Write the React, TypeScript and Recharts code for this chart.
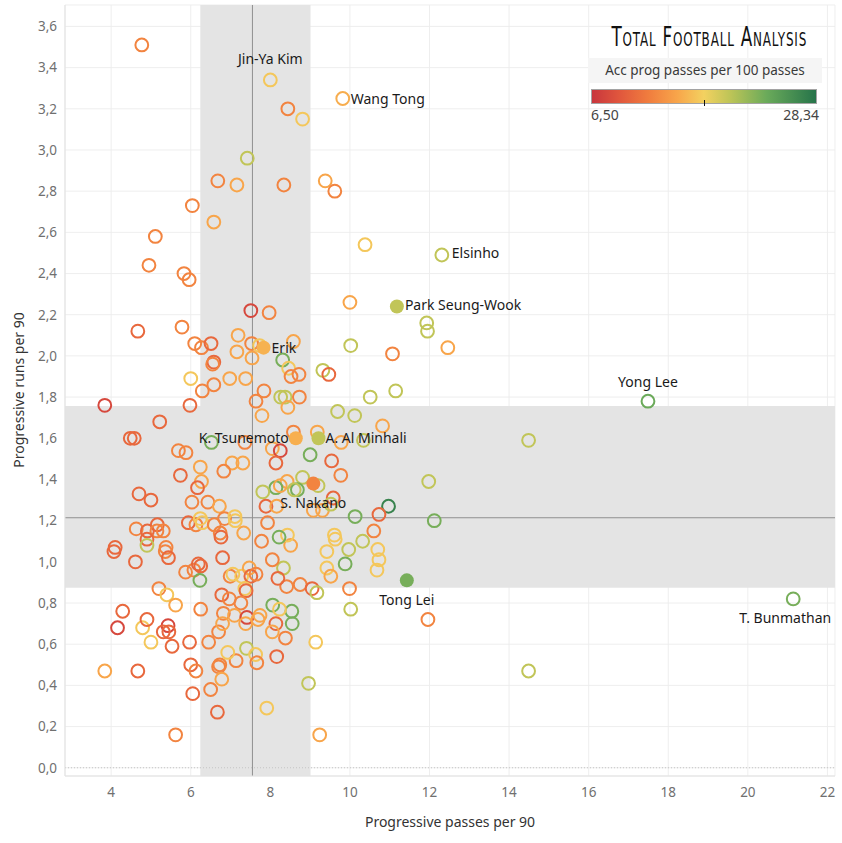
import { ScatterChart, Scatter, XAxis, YAxis, CartesianGrid, ReferenceArea, ReferenceLine } from 'recharts';

// progressive passes per 90 (x), progressive runs per 90 (y), accurate prog passes per 100 passes (colour)
const passes = [
  4.77, 8.44, 8.81, 7.42, 6.68, 7.16, 8.34, 9.38, 9.62, 6.04,
  6.58, 5.11, 4.95, 5.83, 5.96, 10.38, 10.0, 11.93, 11.95, 12.46,
  10.02, 11.07, 10.51, 11.15, 9.69, 10.12, 7.51, 7.97, 4.67, 5.78,
  7.19, 6.1, 6.27, 6.51, 7.53, 7.73, 8.58, 7.16, 7.54, 8.31,
  6.58, 6.55, 8.46, 8.52, 8.72, 9.32, 9.47, 6.0, 6.98, 7.38,
  6.29, 6.58, 7.84, 8.26, 8.37, 8.73, 7.64, 8.44, 3.84, 5.98,
  7.79, 5.22, 4.48, 4.58, 6.52, 7.36, 8.58, 9.18, 9.78, 8.05,
  8.25, 5.69, 5.88, 8.14, 9.0, 9.54, 9.77, 6.24, 7.04, 7.31,
  6.83, 5.74, 8.81, 8.42, 6.27, 6.17, 8.14, 8.25, 8.68, 8.6,
  7.81, 9.2, 4.7, 5.0, 6.03, 6.43, 6.72, 7.89, 8.16, 9.58,
  10.13, 10.82, 10.34, 14.49, 11.98, 10.97, 10.73, 12.12, 9.08, 9.31,
  9.52, 10.6, 9.61, 9.63, 8.51, 8.43, 10.32, 9.97, 9.42, 10.7,
  10.73, 9.88, 9.42, 8.33, 9.52, 10.68, 8.75, 8.41, 9.05, 9.17,
  9.99, 10.02, 8.54, 11.96, 8.55, 8.96, 9.14, 9.24, 14.49, 4.63,
  4.91, 5.16, 5.15, 5.31, 4.9, 4.9, 4.1, 4.07, 5.38, 5.36,
  5.44, 4.61, 5.94, 6.13, 6.24, 6.29, 6.59, 6.85, 7.11, 7.12,
  6.74, 6.76, 7.33, 7.93, 7.78, 8.22, 6.8, 8.05, 5.87, 6.08,
  6.19, 6.25, 6.23, 6.99, 7.06, 7.28, 7.47, 7.51, 7.64, 7.36,
  7.39, 8.19, 5.2, 5.4, 5.62, 6.25, 6.78, 6.97, 7.26, 6.82,
  7.1, 7.41, 7.38, 7.69, 7.74, 8.06, 8.23, 8.14, 8.38, 8.05,
  6.7, 6.45, 5.97, 5.53, 5.43, 5.45, 5.31, 5.0, 4.79, 4.9,
  4.29, 4.16, 3.84, 4.67, 5.62, 6.0, 6.13, 6.05, 6.5, 6.67,
  6.7, 6.73, 6.78, 7.14, 6.93, 7.4, 7.63, 7.66, 8.16, 7.91,
  6.8,
];

const runs = [
  3.51, 3.2, 3.15, 2.96, 2.85, 2.83, 2.83, 2.85, 2.8, 2.73,
  2.65, 2.58, 2.44, 2.4, 2.37, 2.54, 2.26, 2.16, 2.12, 2.04,
  2.05, 2.01, 1.8, 1.83, 1.73, 1.71, 2.22, 2.21, 2.12, 2.14,
  2.1, 2.06, 2.04, 2.06, 2.06, 2.05, 2.07, 2.02, 1.99, 1.98,
  1.97, 1.96, 1.94, 1.9, 1.91, 1.93, 1.91, 1.89, 1.89, 1.89,
  1.83, 1.86, 1.83, 1.8, 1.8, 1.8, 1.78, 1.75, 1.76, 1.76,
  1.71, 1.68, 1.6, 1.6, 1.58, 1.58, 1.63, 1.63, 1.58, 1.55,
  1.54, 1.54, 1.53, 1.48, 1.52, 1.49, 1.42, 1.46, 1.48, 1.48,
  1.44, 1.42, 1.41, 1.39, 1.39, 1.36, 1.36, 1.37, 1.35, 1.35,
  1.34, 1.37, 1.33, 1.3, 1.29, 1.29, 1.27, 1.27, 1.27, 1.31,
  1.22, 1.66, 1.59, 1.59, 1.39, 1.27, 1.23, 1.2, 1.25, 1.25,
  1.28, 1.15, 1.13, 1.11, 1.08, 1.13, 1.1, 1.06, 1.05, 1.06,
  1.01, 0.99, 0.97, 0.97, 0.93, 0.96, 0.89, 0.88, 0.87, 0.85,
  0.87, 0.77, 0.76, 0.72, 0.7, 0.41, 0.61, 0.16, 0.47, 1.16,
  1.15, 1.18, 1.15, 1.15, 1.11, 1.08, 1.07, 1.05, 1.07, 1.05,
  1.02, 1.0, 1.19, 1.18, 1.21, 1.19, 1.18, 1.21, 1.22, 1.2,
  1.14, 1.12, 1.14, 1.19, 1.1, 1.12, 1.02, 1.01, 0.95, 0.96,
  0.99, 0.98, 0.91, 0.93, 0.94, 0.93, 0.97, 0.93, 0.94, 0.87,
  0.86, 0.92, 0.87, 0.84, 0.79, 0.77, 0.84, 0.82, 0.8, 0.75,
  0.74, 0.73, 0.7, 0.72, 0.74, 0.79, 0.77, 0.7, 0.63, 0.66,
  0.66, 0.61, 0.61, 0.59, 0.69, 0.66, 0.66, 0.61, 0.68, 0.72,
  0.76, 0.68, 0.47, 0.47, 0.16, 0.5, 0.47, 0.36, 0.38, 0.27,
  0.49, 0.5, 0.43, 0.52, 0.56, 0.58, 0.55, 0.51, 0.54, 0.29,
  0.7,
];

const accuracy = [
  12.5, 12.5, 16.8, 19.8, 12.5, 14.8, 12.5, 14.8, 12.5, 12.5,
  14.8, 12.5, 12.5, 12.5, 12.5, 16.8, 14.8, 19.8, 19.8, 14.8,
  19.8, 12.5, 19.8, 19.8, 19.8, 19.8, 8, 12.5, 10.5, 12.5,
  14.8, 12.5, 12.5, 10.5, 12.5, 16.8, 14.8, 14.8, 14.8, 23,
  10.5, 12.5, 16.8, 12.5, 12.5, 19.8, 10.5, 16.8, 14.8, 14.8,
  12.5, 12.5, 12.5, 19.8, 19.8, 12.5, 12.5, 14.8, 8, 10.5,
  14.8, 10.5, 10.5, 10.5, 23, 12.5, 12.5, 14.8, 14.8, 14.8,
  8, 12.5, 12.5, 10.5, 23, 10.5, 12.5, 14.8, 14.8, 14.8,
  12.5, 10.5, 19.8, 14.8, 14.8, 10.5, 23, 14.8, 23, 19.8,
  19.8, 19.8, 10.5, 10.5, 12.5, 12.5, 14.8, 10.5, 14.8, 10.5,
  23, 14.8, 19.8, 19.8, 19.8, 27, 10.5, 23, 14.8, 14.8,
  19.8, 12.5, 16.8, 16.8, 14.8, 16.8, 19.8, 19.8, 16.8, 16.8,
  16.8, 23, 16.8, 19.8, 14.8, 16.8, 12.5, 12.5, 10.5, 19.8,
  12.5, 19.8, 23, 12.5, 23, 19.8, 16.8, 14.8, 19.8, 12.5,
  10.5, 10.5, 12.5, 12.5, 10.5, 19.8, 10.5, 10.5, 12.5, 12.5,
  10.5, 10.5, 10.5, 12.5, 16.8, 16.8, 12.5, 12.5, 16.8, 16.8,
  12.5, 10.5, 14.8, 12.5, 12.5, 23, 10.5, 12.5, 12.5, 12.5,
  10.5, 10.5, 23, 12.5, 16.8, 16.8, 14.8, 10.5, 12.5, 16.8,
  10.5, 10.5, 12.5, 16.8, 14.8, 12.5, 10.5, 12.5, 12.5, 12.5,
  14.8, 8, 14.8, 14.8, 14.8, 23, 16.8, 10.5, 12.5, 14.8,
  12.5, 12.5, 10.5, 10.5, 8, 10.5, 10.5, 16.8, 16.8, 10.5,
  10.5, 8, 14.8, 10.5, 12.5, 10.5, 12.5, 10.5, 12.5, 10.5,
  12.5, 12.5, 14.8, 12.5, 16.8, 19.8, 16.8, 12.5, 10.5, 16.8,
  14.8,
];

// labelled players
const namedPlayers = ['Jin-Ya Kim', 'Wang Tong', 'Elsinho', 'Park Seung-Wook', 'Erik', 'Yong Lee', 'K. Tsunemoto', 'A. Al Minhali', 'S. Nakano', 'Tong Lei', 'T. Bunmathan'];
const namedPasses = [8.0, 9.82, 12.31, 11.18, 7.83, 17.49, 8.64, 9.21, 9.08, 11.43, 21.14];
const namedRuns = [3.34, 3.25, 2.49, 2.24, 2.04, 1.78, 1.6, 1.6, 1.38, 0.91, 0.82];
const namedAccuracy = [16.8, 15.3, 19.8, 19.8, 15.6, 23.5, 15.4, 19.8, 12.5, 23, 23];
const highlighted = ['Park Seung-Wook', 'Erik', 'K. Tsunemoto', 'A. Al Minhali', 'S. Nakano', 'Tong Lei'];

const xTicks = [4, 6, 8, 10, 12, 14, 16, 18, 20, 22];
const yTicks = [0, 0.2, 0.4, 0.6, 0.8, 1.0, 1.2, 1.4, 1.6, 1.8, 2.0, 2.2, 2.4, 2.6, 2.8, 3.0, 3.2, 3.4, 3.6];

const medianPasses = 7.55;
const medianRuns = 1.214;
const passesBand = [6.24, 9.01];
const runsBand = [0.874, 1.757];
const accMin = 6.5;
const accMax = 28.34;

const stops: [number, string][] = [
  [0, '#c8363d'],
  [0.12, '#e0563d'],
  [0.25, '#f07c3e'],
  [0.38, '#f8a54a'],
  [0.5, '#f3d160'],
  [0.62, '#bcc457'],
  [0.78, '#6aaa5a'],
  [1, '#26744a'],
];

const hex = (s: string) => [1, 3, 5].map((i) => parseInt(s.slice(i, i + 2), 16));

function colorFor(v: number) {
  const t = Math.min(1, Math.max(0, (v - accMin) / (accMax - accMin)));
  for (let i = 1; i < stops.length; i++) {
    if (t <= stops[i][0]) {
      const [t0, c0] = stops[i - 1];
      const [t1, c1] = stops[i];
      const f = (t - t0) / (t1 - t0);
      const a = hex(c0);
      const b = hex(c1);
      const m = a.map((x, k) => Math.round(x + (b[k] - x) * f));
      return `rgb(${m[0]},${m[1]},${m[2]})`;
    }
  }
  return stops[stops.length - 1][1];
}

const points = passes.map((x, i) => ({ x, y: runs[i], acc: accuracy[i] }));
const named = namedPlayers.map((name, i) => ({ name, x: namedPasses[i], y: namedRuns[i], acc: namedAccuracy[i] }));

const labelSide: Record<string, { anchor: 'start' | 'middle' | 'end'; dx: number; dy: number }> = {
  'Jin-Ya Kim': { anchor: 'middle', dx: 0, dy: -21 },
  'Wang Tong': { anchor: 'start', dx: 8, dy: 0 },
  'Elsinho': { anchor: 'start', dx: 10, dy: -2 },
  'Park Seung-Wook': { anchor: 'start', dx: 8, dy: -2 },
  'Erik': { anchor: 'start', dx: 8, dy: 0 },
  'Yong Lee': { anchor: 'middle', dx: 0, dy: -20 },
  'K. Tsunemoto': { anchor: 'end', dx: -7, dy: -1 },
  'A. Al Minhali': { anchor: 'start', dx: 7, dy: -1 },
  'S. Nakano': { anchor: 'middle', dx: 0, dy: 19 },
  'Tong Lei': { anchor: 'middle', dx: 0, dy: 19 },
  'T. Bunmathan': { anchor: 'middle', dx: -8, dy: 19 },
};

const Ring = (props: any) => {
  const { cx, cy, payload } = props;
  return <circle cx={cx} cy={cy} r={6.4} fill="none" stroke={colorFor(payload.acc)} strokeWidth={2} />;
};

const NamedMark = (props: any) => {
  const { cx, cy, payload } = props;
  const c = colorFor(payload.acc);
  const filled = highlighted.includes(payload.name);
  const l = labelSide[payload.name];
  return (
    <g>
      {filled ? (
        <circle cx={cx} cy={cy} r={7} fill={c} />
      ) : (
        <circle cx={cx} cy={cy} r={6.4} fill="none" stroke={c} strokeWidth={2} />
      )}
      <text x={cx + l.dx} y={cy + l.dy} textAnchor={l.anchor} dominantBaseline="central" fontSize={14} fill="#1a1a1a" fontFamily="'Noto Sans', sans-serif">
        {payload.name}
      </text>
    </g>
  );
};

const tickStyle = { fontSize: 13.5, fill: '#707070', fontFamily: "'Noto Sans', sans-serif" };

export default function App() {
  return (
    <div style={{ position: 'absolute', left: 0, top: 0, width: 842, height: 843, background: '#fff', fontFamily: "'Noto Sans', sans-serif" }}>
      <ScatterChart width={842} height={843} margin={{ top: 5, right: 7, bottom: 27, left: 0 }}>
        <ReferenceArea x1={passesBand[0]} x2={passesBand[1]} fill="#e4e4e4" fillOpacity={1} ifOverflow="hidden" />
        <ReferenceArea y1={runsBand[0]} y2={runsBand[1]} fill="#e4e4e4" fillOpacity={1} ifOverflow="hidden" />
        <CartesianGrid stroke="#ececec" strokeOpacity={0.9} />
        <XAxis
          type="number"
          dataKey="x"
          domain={[2.84, 22.19]}
          ticks={xTicks}
          allowDataOverflow
          tickLine={false}
          tickSize={0}
          tickMargin={11}
          axisLine={{ stroke: '#e2e2e2' }}
          tick={tickStyle}
          height={40}
        />
        <YAxis
          type="number"
          dataKey="y"
          domain={[-0.04, 3.704]}
          ticks={yTicks}
          allowDataOverflow
          tickLine={false}
          tickSize={0}
          tickMargin={8}
          axisLine={{ stroke: '#e2e2e2' }}
          tick={tickStyle}
          tickFormatter={(v: number) => v.toFixed(1).replace('.', ',')}
          width={65}
        />
        <ReferenceLine y={0} stroke="#c4c4c4" strokeDasharray="1 2" />
        <ReferenceLine x={medianPasses} stroke="#8f8f8f" />
        <ReferenceLine y={medianRuns} stroke="#8f8f8f" />
        <Scatter data={points} shape={Ring} isAnimationActive={false} />
        <Scatter data={named} shape={NamedMark} isAnimationActive={false} />
      </ScatterChart>

      <div style={{ position: 'absolute', left: 0, width: 842, top: 812, textAlign: 'center', paddingLeft: 58, boxSizing: 'border-box', fontSize: 14, color: '#333' }}>
        Progressive passes per 90
      </div>
      <div style={{ position: 'absolute', left: 18, top: 390, transform: 'translate(-50%, -50%) rotate(-90deg)', whiteSpace: 'nowrap', fontSize: 14, color: '#333' }}>
        Progressive runs per 90
      </div>

      <div style={{ position: 'absolute', left: 588, top: 24, width: 234 }}>
        <div style={{ textAlign: 'center', fontFamily: "'DejaVu Sans', sans-serif", fontSize: 21, letterSpacing: 1, color: '#111', fontVariant: 'small-caps', transform: 'scaleX(0.8) scaleY(1.3)', whiteSpace: 'nowrap', height: 26, lineHeight: '26px' }}>
          Total Football Analysis
        </div>
        <div style={{ marginTop: 8, background: '#f5f5f5', height: 25, lineHeight: '25px', textAlign: 'center', fontSize: 13.5, color: '#3a3a3a', whiteSpace: 'nowrap' }}>
          Acc prog passes per 100 passes
        </div>
        <div style={{ position: 'relative', marginTop: 6, marginLeft: 3, width: 226, height: 15, border: '1px solid #a3a3a3', boxSizing: 'border-box', background: `linear-gradient(to right, ${stops.map(([t, c]) => `${c} ${t * 100}%`).join(', ')})` }}>
          <div style={{ position: 'absolute', left: 112, top: 10, width: 1, height: 6, background: '#111' }} />
        </div>
        <div style={{ display: 'flex', justifyContent: 'space-between', marginLeft: 3, width: 228, fontSize: 14, color: '#444', marginTop: 1 }}>
          <span>{accMin.toFixed(2).replace('.', ',')}</span>
          <span>{accMax.toFixed(2).replace('.', ',')}</span>
        </div>
      </div>
    </div>
  );
}
